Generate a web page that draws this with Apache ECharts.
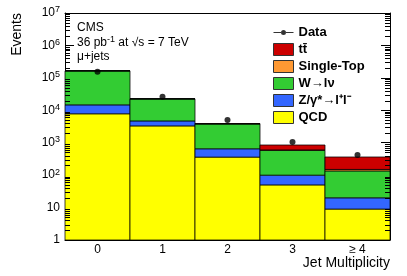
<!DOCTYPE html>
<html><head><meta charset="utf-8">
<script src="https://cdn.jsdelivr.net/npm/echarts@6/dist/echarts.min.js"></script>
<style>html,body{margin:0;padding:0;background:#fff}#c{width:407px;height:276px}</style>
</head><body><div id="c"></div>
<script>
const categories = ['0', '1', '2', '3', '\u2265 4'];
const qcd       = [7800, 3300, 360, 50, 9];
const zjets     = [6900, 1400, 290, 50, 11];
const wjets     = [150000, 17800, 3150, 480, 115];
const singleTop = [15, 35, 40, 20, 15];
const ttbar     = [3, 10, 50, 250, 213];
const data      = [155000, 26000, 5000, 1050, 420];
const yTickLabels = ['1', '10', '10{s|2}', '10{s|3}', '10{s|4}', '10{s|5}', '10{s|6}', '10{s|7}'];
const minorMultipliers = [2, 3, 4, 5, 6, 7, 8, 9];

const FONT = '"Liberation Sans", Arial, sans-serif';
const chart = echarts.init(document.getElementById('c'), null, {renderer: 'canvas'});

const comps = [
  {name: 'QCD', color: '#ffff00', vals: qcd},
  {name: 'Z/\u03b3*\u2192l\u207al\u207b', color: '#3366ff', vals: zjets},
  {name: 'W\u2192l\u03bd', color: '#33cc33', vals: wjets},
  {name: 'Single-Top', color: '#ff9933', vals: singleTop},
  {name: 'tt\u0304', color: '#cc0000', vals: ttbar}
];
let base = categories.map(() => 1);
const series = [];
comps.forEach(c => {
  const lower = base.slice();
  const upper = base.map((b, i) => (b === 1 ? 0 : b) + c.vals[i]);
  base = upper;
  series.push({
    type: 'custom', name: c.name, coordinateSystem: 'cartesian2d',
    itemStyle: {color: c.color},
    data: categories.map((_, i) => [i, lower[i], upper[i]]),
    encode: {x: 0, y: [1, 2]},
    renderItem(params, api) {
      const i = api.value(0);
      const lo = api.coord([i, api.value(1)]);
      const hi = api.coord([i, api.value(2)]);
      const w = api.size([1, 0])[0];
      return {type: 'rect',
        shape: {x: lo[0] - w / 2, y: hi[1], width: w, height: lo[1] - hi[1]},
        style: {fill: api.visual('color'), stroke: 'rgba(0,0,0,0.75)', lineWidth: 1}};
    }
  });
});

const minorVals = [];
for (let e = 0; e < 7; e++) minorMultipliers.forEach(m => minorVals.push(m * Math.pow(10, e)));
series.push({
  type: 'custom', name: '_minor', silent: true, z: 10,
  data: minorVals.map(v => [0, v]),
  encode: {x: 0, y: 1},
  renderItem(params, api) {
    const cs = params.coordSys;
    const y = Math.round(api.coord([0, api.value(1)])[1]) + 0.5;
    return {type: 'group', children: [
      {type: 'line', shape: {x1: cs.x, y1: y, x2: cs.x + 5, y2: y}, style: {stroke: '#000', lineWidth: 1}},
      {type: 'line', shape: {x1: cs.x + cs.width - 5, y1: y, x2: cs.x + cs.width, y2: y}, style: {stroke: '#000', lineWidth: 1}}
    ]};
  }
});

series.push({
  type: 'scatter', name: 'Data', symbol: 'circle', symbolSize: 6, z: 20,
  itemStyle: {color: '#000'},
  data: data.map((v, i) => [i, v])
});

const sup = {s: {fontSize: 9, fontFamily: FONT, color: '#000', verticalAlign: 'top', padding: [0, 0, 6, 0]}};

chart.setOption({
  animation: false,
  backgroundColor: '#fff',
  grid: {left: 65, right: 17, top: 13, bottom: 36},
  xAxis: [
    {type: 'category', data: categories, position: 'bottom', boundaryGap: true,
     axisLine: {lineStyle: {color: '#000', width: 1}},
     axisTick: {inside: true, alignWithLabel: true, length: 6, lineStyle: {color: '#000'}},
     axisLabel: {color: '#000', fontSize: 12, fontFamily: FONT, margin: 4},
     splitLine: {show: false}},
    {type: 'category', data: categories, position: 'top', boundaryGap: true,
     axisLine: {lineStyle: {color: '#000', width: 1}},
     axisTick: {inside: true, alignWithLabel: true, length: 6, lineStyle: {color: '#555'}},
     axisLabel: {show: false}, splitLine: {show: false}}
  ],
  yAxis: [
    {type: 'log', logBase: 10, min: 1, max: 1e7, position: 'left',
     axisLine: {show: true, lineStyle: {color: '#000', width: 1}},
     axisTick: {show: true, inside: true, length: 9, lineStyle: {color: '#000'}},
     axisLabel: {color: '#000', fontSize: 12, fontFamily: FONT, margin: 5,
       formatter: v => yTickLabels[Math.round(Math.log10(v))], rich: sup},
     splitLine: {show: false}},
    {type: 'log', logBase: 10, min: 1, max: 1e7, position: 'right',
     axisLine: {show: true, lineStyle: {color: '#000', width: 1}},
     axisTick: {show: true, inside: true, length: 9, lineStyle: {color: '#000'}},
     axisLabel: {show: false}, splitLine: {show: false}}
  ],
  legend: {
    orient: 'vertical', left: 273, top: 26, padding: 0, itemGap: 4,
    itemWidth: 20, itemHeight: 12,
    textStyle: {color: '#000', fontSize: 13, fontWeight: 'bold', fontFamily: FONT},
    data: [
      {name: 'Data', icon: 'path://M0,0M20,12M0,5.5h7.6v1h-7.6zM12.4,5.5h7.6v1h-7.6zM7.5,6a2.5,2.5 0 1,0 5,0a2.5,2.5 0 1,0 -5,0z', itemStyle: {color: '#000'}},
      {name: 'tt\u0304', icon: 'rect', itemStyle: {borderColor: '#333', borderWidth: 1}},
      {name: 'Single-Top', icon: 'rect', itemStyle: {borderColor: '#333', borderWidth: 1}},
      {name: 'W\u2192l\u03bd', icon: 'rect', itemStyle: {borderColor: '#333', borderWidth: 1}},
      {name: 'Z/\u03b3*\u2192l\u207al\u207b', icon: 'rect', itemStyle: {borderColor: '#333', borderWidth: 1}},
      {name: 'QCD', icon: 'rect', itemStyle: {borderColor: '#333', borderWidth: 1}}
    ]
  },
  graphic: [
    {type: 'text', x: 77, y: 28, style: {text: 'CMS', font: '12px ' + FONT, fill: '#000', verticalAlign: 'middle'}},
    {type: 'text', x: 77, y: 43, style: {text: '36 pb{s|-1} at \u221as = 7 TeV', font: '12px ' + FONT, fill: '#000', verticalAlign: 'middle', rich: sup}},
    {type: 'text', x: 77, y: 57, style: {text: '\u03bc+jets', font: '12px ' + FONT, fill: '#000', verticalAlign: 'middle'}},
    {type: 'text', x: 17, y: 13, rotation: Math.PI / 2, style: {text: 'Events', font: '14px ' + FONT, fill: '#000', align: 'right', verticalAlign: 'middle'}},
    {type: 'text', x: 390, y: 263, style: {text: 'Jet Multiplicity', font: '14px ' + FONT, fill: '#000', align: 'right', verticalAlign: 'middle'}}
  ],
  series: series
});
</script></body></html>
